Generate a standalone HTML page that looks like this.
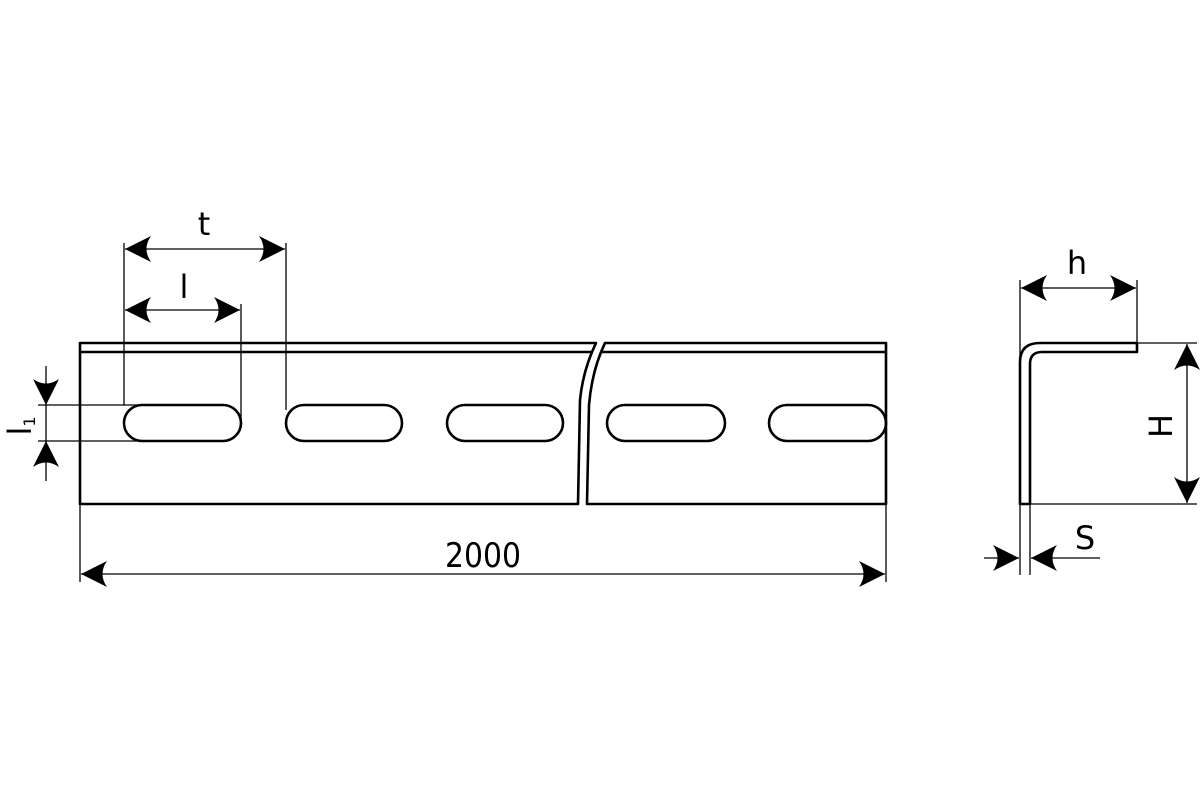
<!DOCTYPE html>
<html><head><meta charset="utf-8"><style>html,body{margin:0;padding:0;background:#fff}svg{display:block}</style></head>
<body>
<svg width="1200" height="800" viewBox="0 0 1200 800" xmlns="http://www.w3.org/2000/svg">
<defs>
<marker id="a" viewBox="0 0 26 26" refX="26" refY="13" markerWidth="26" markerHeight="26" markerUnits="userSpaceOnUse" orient="auto-start-reverse">
<path d="M0,0 Q9,13 0,26 L26,13 Z" fill="#000"/>
</marker>
</defs>
<g fill="none" stroke="#000" stroke-width="2.6" stroke-linejoin="round">
<path d="M80,504 L80,343 L596,343 Q583,370 580,400 L578,504 Z"/>
<line x1="80" y1="352" x2="591" y2="352"/>
<path d="M886,343 L605,343 Q592,370 589,405 L587,504 L886,504 Z"/>
<line x1="601" y1="352" x2="886" y2="352"/>
<rect x="124" y="405" width="117" height="36" rx="18"/>
<rect x="286" y="405" width="116" height="36" rx="18"/>
<rect x="447" y="405" width="116" height="36" rx="18"/>
<rect x="607" y="405" width="118" height="36" rx="18"/>
<rect x="769" y="405" width="117" height="36" rx="18"/>
<path d="M1020,504 L1020,362 Q1020,343 1040,343 L1137,343 L1137,352 L1042,352 Q1030,352 1030,364 L1030,504 Z"/>
</g>
<g stroke="#000" stroke-width="1.3" fill="none">
<line x1="124" y1="243" x2="124" y2="405"/>
<line x1="286" y1="243" x2="286" y2="410"/>
<line x1="125" y1="249" x2="285" y2="249" marker-start="url(#a)" marker-end="url(#a)"/>
<line x1="241" y1="304" x2="241" y2="420"/>
<line x1="125" y1="310" x2="240" y2="310" marker-start="url(#a)" marker-end="url(#a)"/>
<line x1="38" y1="405" x2="140" y2="405"/>
<line x1="38" y1="441" x2="140" y2="441"/>
<line x1="46" y1="366" x2="46" y2="405" marker-end="url(#a)"/>
<line x1="46" y1="481" x2="46" y2="441" marker-end="url(#a)"/>
<line x1="46" y1="405" x2="46" y2="441"/>
<line x1="80" y1="504" x2="80" y2="582"/>
<line x1="886" y1="504" x2="886" y2="582"/>
<line x1="81" y1="574" x2="885" y2="574" marker-start="url(#a)" marker-end="url(#a)"/>
<line x1="1020" y1="280" x2="1020" y2="362"/>
<line x1="1137" y1="280" x2="1137" y2="343"/>
<line x1="1021" y1="288" x2="1136" y2="288" marker-start="url(#a)" marker-end="url(#a)"/>
<line x1="1137" y1="343" x2="1197" y2="343"/>
<line x1="1030" y1="504" x2="1197" y2="504"/>
<line x1="1187" y1="344" x2="1187" y2="503" marker-start="url(#a)" marker-end="url(#a)"/>
<line x1="1020" y1="504" x2="1020" y2="575"/>
<line x1="1030" y1="504" x2="1030" y2="575"/>
<line x1="984" y1="558" x2="1019" y2="558" marker-end="url(#a)"/>
<line x1="1100" y1="558" x2="1031" y2="558" marker-end="url(#a)"/>
</g>
<g font-family="'DejaVu Sans','Liberation Sans',sans-serif" fill="#000">
<text x="204" y="235" font-size="32" text-anchor="middle">t</text>
<text x="184" y="298" font-size="32" text-anchor="middle">l</text>
<text x="483" y="567" font-size="34" text-anchor="middle" textLength="76" lengthAdjust="spacingAndGlyphs">2000</text>
<text x="1077" y="274" font-size="32" text-anchor="middle">h</text>
<text x="1085" y="549" font-size="32" text-anchor="middle">S</text>
<text transform="translate(1172,426) rotate(-90)" font-size="32" text-anchor="middle">H</text>
<text transform="translate(31,426) rotate(-90)" font-size="32" text-anchor="middle">l<tspan font-size="16" dy="4">1</tspan></text>
</g>
</svg>
</body></html>
